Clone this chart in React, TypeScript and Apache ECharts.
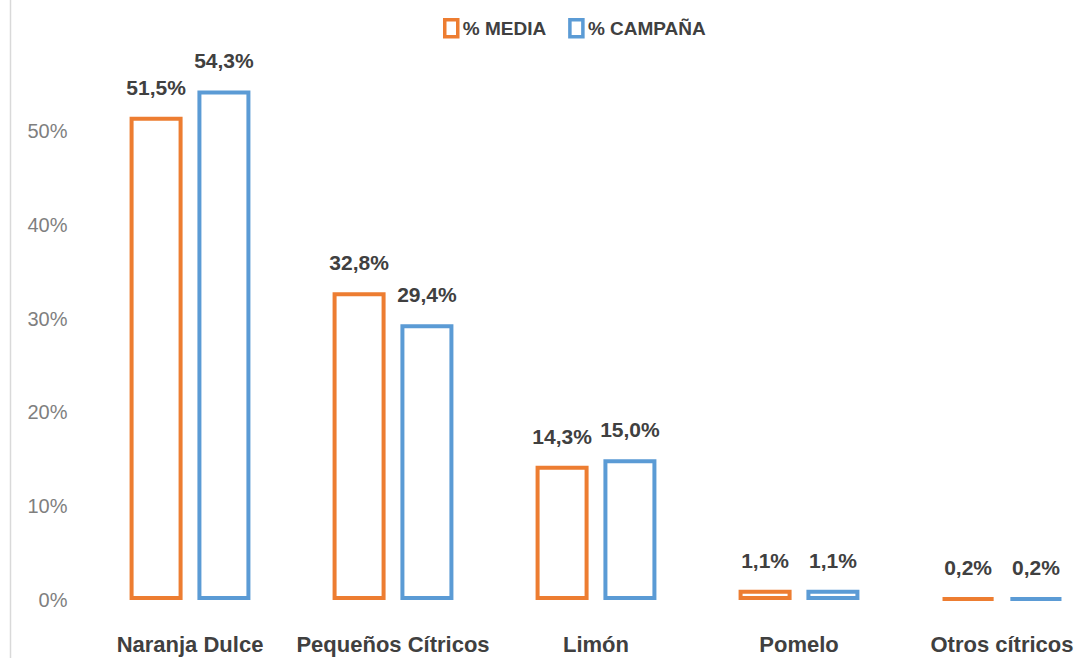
import React, { useEffect, useRef } from "react";
import * as echarts from "echarts";

const categories = ["Naranja Dulce", "Pequeños Cítricos", "Limón", "Pomelo", "Otros cítricos"];
const mediaValues = [51.5, 32.8, 14.3, 1.1, 0.2];
const campanaValues = [54.3, 29.4, 15.0, 1.1, 0.2];
const seriesNames = ["% MEDIA", "% CAMPAÑA"];
const yTicks = [0, 10, 20, 30, 40, 50];

const FONT = "'Liberation Sans', Arial, sans-serif";
const ORANGE = "#ED7D31";
const BLUE = "#5B9BD5";

export default function App() {
  const ref = useRef<HTMLDivElement>(null);
  useEffect(() => {
    if (!ref.current) return;
    const chart = echarts.init(ref.current, undefined, { renderer: "svg" });
    const fmt = (v: number) => v.toFixed(1).replace(".", ",") + "%";
    const makeSeries = (name: string, data: number[], color: string) => ({
      name,
      type: "bar",
      data,
      barWidth: 53,
      barGap: "28%",
      itemStyle: { color: "#ffffff", borderColor: color, borderWidth: 4 },
      label: {
        show: true,
        position: "top",
        distance: 19,
        formatter: (p: any) => fmt(p.value),
        color: "#404040",
        fontFamily: FONT,
        fontWeight: "bold",
        fontSize: 21,
      },
    });
    chart.setOption({
      animation: false,
      backgroundColor: "#ffffff",
      legend: {
        data: [
          { name: seriesNames[0], itemStyle: { color: "#ffffff", borderColor: ORANGE, borderWidth: 3.5 } },
          { name: seriesNames[1], itemStyle: { color: "#ffffff", borderColor: BLUE, borderWidth: 3.5 } },
        ],
        left: 438,
        top: 13,
        itemWidth: 13,
        itemHeight: 17,
        itemGap: 22,
        icon: "rect",
        textStyle: { color: "#404040", fontFamily: FONT, fontWeight: "bold", fontSize: 19 },
      },
      grid: { left: 88.5, top: 37, width: 1015, height: 563, containLabel: false },
      xAxis: {
        type: "category",
        data: categories,
        axisLine: { show: false },
        axisTick: { show: false },
        axisLabel: {
          color: "#404040",
          fontFamily: FONT,
          fontWeight: "bold",
          fontSize: 22,
          margin: 33,
          interval: 0,
        },
      },
      yAxis: {
        type: "value",
        min: 0,
        max: 60,
        interval: 10,
        splitLine: { show: false },
        axisLine: { show: false },
        axisTick: { show: false },
        axisLabel: {
          color: "#7F7F7F",
          fontFamily: FONT,
          fontSize: 20,
          margin: 21,
          formatter: (v: number) => (yTicks.includes(v) ? v + "%" : ""),
        },
      },
      graphic: [
        {
          type: "line",
          shape: { x1: 10.5, y1: 0, x2: 10.5, y2: 658 },
          style: { stroke: "#D9D9D9", lineWidth: 1.5 },
        },
      ],
      series: [
        { ...makeSeries(seriesNames[0], mediaValues, ORANGE) },
        { ...makeSeries(seriesNames[1], campanaValues, BLUE) },
      ],
    });
    return () => chart.dispose();
  }, []);
  return (
    <div
      style={{
        position: "absolute",
        left: 0,
        top: 0,
        width: 1074,
        height: 658,
        overflow: "hidden",
        background: "#fff",
      }}
    >
      <div ref={ref} style={{ position: "absolute", left: 0, top: 0, width: 1104, height: 658 }} />
    </div>
  );
}
